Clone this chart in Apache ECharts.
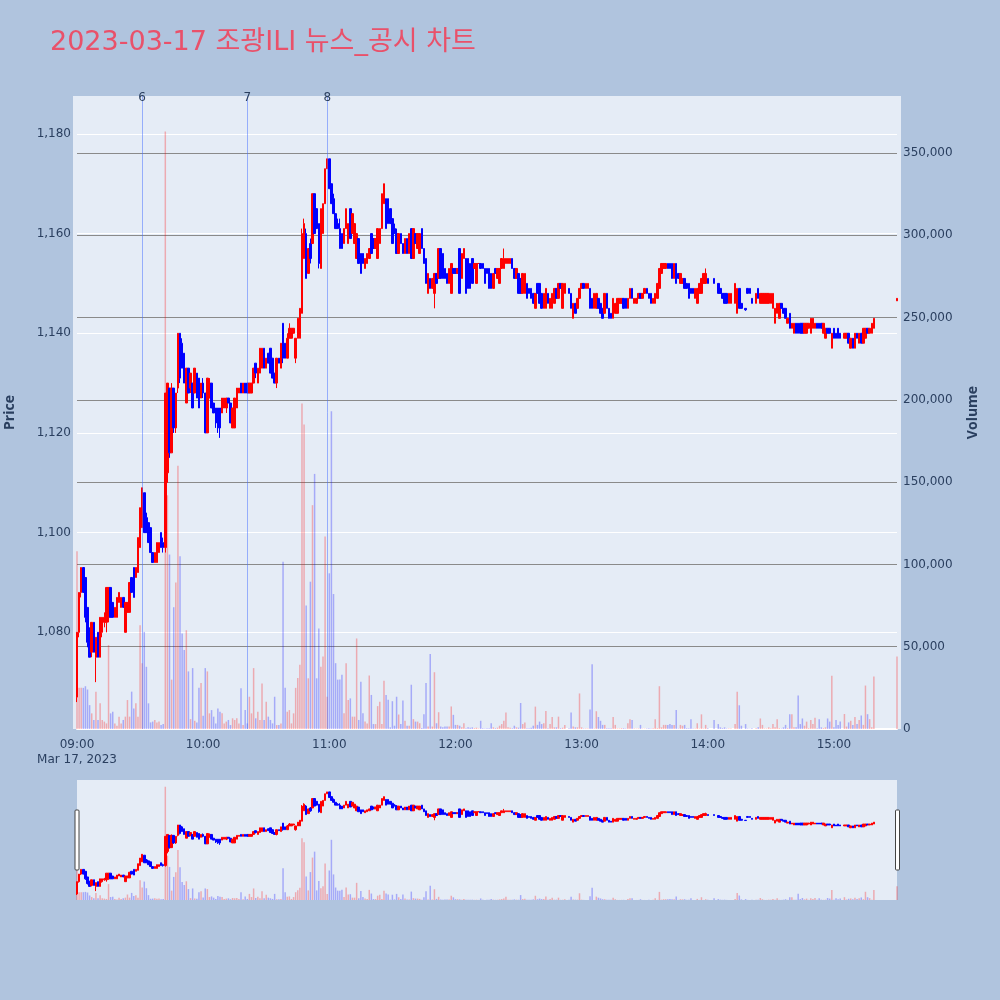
<!DOCTYPE html>
<html><head><meta charset="utf-8">
<script src="https://cdn.jsdelivr.net/npm/echarts@6/dist/echarts.min.js"></script>
<style>html,body{margin:0;padding:0;background:#B0C4DE;}#c{width:1000px;height:1000px;}</style>
</head><body><div id="c"></div>
<script>
// [open, high, low, close] per minute, null = no trade
const h09 = [
[1067,1080,1066,1080],[1080,1088,1079,1088],[1088,1093,1087,1093],[1093,1093,1088,1088],[1091,1091,1082,1083],
[1085,1085,1077,1078],[1080,1081,1075,1075],[1076,1082,1075,1082],[1082,1082,1076,1076],[1075,1079,1070,1079],
[1080,1080,1075,1075],[1075,1083,1075,1083],[1080,1083,1079,1083],[1082,1084,1081,1083],[1082,1089,1080,1089],
[1083,1089,1082,1089],[1089,1089,1083,1083],[1086,1086,1083,1083],[1083,1085,1083,1085],[1083,1087,1083,1087],
[1086,1088,1086,1088],[1085,1087,1085,1087],[1087,1087,1085,1085],[1080,1086,1080,1086],[1084,1086,1084,1086],
[1084,1090,1084,1090],[1091,1091,1088,1088],[1093,1093,1087,1087],[1091,1093,1091,1093],[1092,1099,1092,1099],
[1097,1105,1097,1105],[1101,1109,1101,1109],[1108,1108,1100,1100],[1103,1104,1100,1100],[1102,1102,1098,1098],
[1101,1101,1096,1096],[1096,1096,1094,1094],[1094,1096,1094,1096],[1094,1098,1094,1098],[1096,1098,1096,1098],
[1100,1100,1097,1097],[1098,1099,1096,1097],[1097,1128,1096,1128],[1112,1130,1110,1130],[1129,1129,1115,1116],
[1116,1130,1116,1129],[1129,1129,1120,1121],[1121,1128,1120,1128],[1129,1140,1128,1140],[1140,1140,1130,1131],
[1138,1139,1133,1133],[1136,1136,1130,1130],[1126,1133,1126,1133],[1133,1133,1128,1128],[1129,1132,1128,1132],
[1130,1130,1125,1125],[1128,1133,1128,1133],[1132,1132,1127,1127],[1131,1131,1125,1125],[1127,1130,1127,1130]
];
const h10 = [
[1130,1131,1127,1128],[1128,1128,1120,1120],[1120,1131,1120,1131],[1127,1131,1127,1130],[1130,1130,1125,1125],
[1126,1126,1124,1124],[1125,1125,1121,1122],[1125,1125,1120,1121],[1125,1125,1119,1121],[1124,1127,1124,1127],
[1125,1127,1125,1127],[1125,1127,1124,1127],[1127,1127,1126,1126],[1126,1126,1122,1122],[1121,1125,1121,1125],
[1121,1127,1121,1127],[1125,1129,1125,1129],[1128,1129,1128,1129],[1130,1130,1128,1128],[1128,1130,1128,1130],
[1130,1130,1128,1128],[1130,1130,1128,1128],[1128,1130,1128,1130],[1128,1130,1128,1130],[1130,1133,1130,1133],
[1134,1134,1131,1132],[1130,1133,1130,1133],[1132,1137,1132,1137],[1133,1137,1133,1137],[1137,1137,1133,1133],
[1133,1135,1133,1135],[1136,1136,1134,1134],[1137,1137,1132,1132],[1135,1135,1131,1131],[1132,1132,1130,1130],
[1130,1135,1129,1135],[1135,1135,1134,1134],[1133,1138,1133,1138],[1142,1142,1134,1135],[1138,1138,1135,1135],
[1135,1140,1135,1139],[1139,1142,1139,1141],[1139,1141,1139,1141],[1140,1141,1140,1141],[1135,1139,1134,1139],
[1139,1143,1139,1143],[1139,1145,1139,1145],[1144,1161,1144,1160],[1155,1163,1155,1162],[1160,1161,1151,1151],
[1152,1157,1152,1157],[1158,1159,1154,1155],[1158,1168,1158,1168],[1168,1168,1160,1160],[1165,1165,1161,1161],
[1162,1162,1153,1154],[1153,1165,1153,1165],[1160,1166,1160,1166],[1166,1173,1166,1173],[1173,1175,1173,1175]
];
const h11 = [
[1175,1175,1169,1169],[1170,1170,1166,1166],[1167,1168,1164,1164],[1164,1164,1161,1161],[1162,1163,1161,1161],
[1161,1163,1157,1157],[1160,1160,1157,1157],[1158,1161,1158,1161],[1161,1165,1161,1165],[1158,1162,1158,1162],
[1165,1165,1159,1159],[1160,1164,1160,1164],[1158,1162,1158,1162],[1155,1160,1155,1160],[1159,1159,1154,1154],
[1156,1156,1152,1152],[1156,1156,1154,1154],[1153,1155,1153,1155],[1154,1156,1154,1156],[1155,1157,1155,1157],
[1160,1160,1156,1156],[1159,1159,1157,1157],[1157,1159,1157,1159],[1155,1161,1155,1161],[1158,1161,1158,1161],
[1161,1168,1161,1168],[1166,1170,1166,1170],[1167,1167,1161,1161],[1167,1167,1162,1162],[1165,1165,1162,1162],
[1163,1163,1158,1158],[1161,1162,1160,1160],[1160,1161,1156,1156],[1156,1160,1156,1160],[1160,1160,1158,1158],
[1158,1158,1156,1156],[1156,1159,1156,1159],[1159,1159,1156,1156],[1156,1160,1156,1160],[1161,1161,1155,1155],
[1155,1161,1155,1161],[1160,1160,1158,1158],[1157,1160,1157,1160],[1156,1160,1156,1160],[1161,1161,1157,1157],
[1157,1157,1154,1154],[1155,1155,1150,1150],[1148,1152,1148,1152],[1151,1151,1149,1149],[1149,1151,1149,1151],
[1148,1152,1145,1152],[1152,1152,1150,1150],[1151,1157,1151,1157],[1157,1157,1151,1151],[1156,1156,1151,1151],
[1153,1153,1151,1151],[1152,1152,1150,1150],[1150,1153,1150,1153],[1148,1154,1148,1154],[1153,1153,1152,1152]
];
const h12 = [
[1153,1153,1152,1152],[1152,1153,1152,1153],[1157,1157,1148,1148],[1151,1156,1151,1156],[1155,1157,1155,1157],
[1155,1155,1148,1148],[1155,1155,1149,1149],[1154,1154,1149,1149],[1155,1155,1150,1150],[1153,1154,1153,1154],
[1150,1154,1150,1154],[1154,1154,1154,1154],[1154,1154,1153,1153],[1154,1154,1153,1153],[1153,1153,1150,1150],
[1153,1153,1152,1152],[1153,1153,1149,1149],[1152,1152,1149,1149],[1149,1152,1149,1152],[1153,1153,1152,1152],
[1151,1153,1151,1153],[1150,1153,1150,1153],[1153,1155,1153,1155],[1153,1157,1153,1155],[1154,1155,1154,1155],
[1154,1155,1154,1155],[1154,1155,1154,1155],[1155,1155,1153,1153],[1153,1153,1151,1151],[1151,1153,1151,1153],
[1152,1152,1148,1148],[1151,1151,1148,1148],[1148,1152,1148,1152],[1148,1152,1148,1152],[1150,1150,1147,1147],
[1149,1149,1148,1148],[1149,1149,1147,1147],[1148,1148,1146,1146],[1145,1148,1145,1148],[1150,1150,1148,1148],
[1150,1150,1146,1146],[1148,1148,1145,1145],[1145,1148,1145,1148],[1145,1149,1145,1149],[1148,1148,1146,1146],
[1145,1147,1145,1147],[1145,1148,1145,1148],[1146,1149,1146,1149],[1149,1149,1147,1147],[1147,1150,1147,1150],
[1150,1150,1149,1149],[1145,1150,1145,1150],[1148,1150,1148,1150],null,[1149,1149,1148,1148],
[1148,1148,1145,1145],[1143,1146,1143,1146],[1146,1146,1144,1144],[1145,1147,1145,1147],[1147,1149,1147,1149]
];
const h13 = [
[1149,1150,1149,1150],[1150,1150,1149,1149],[1149,1150,1149,1150],[1149,1150,1149,1150],[1149,1149,1145,1145],
[1147,1147,1145,1145],[1145,1148,1145,1148],[1145,1148,1145,1148],[1147,1147,1145,1145],[1146,1146,1144,1144],
[1145,1145,1143,1143],[1144,1148,1144,1148],[1148,1148,1145,1145],[1145,1145,1143,1143],[1144,1144,1143,1143],
[1143,1147,1143,1147],[1144,1146,1144,1146],[1144,1147,1144,1147],[1146,1147,1146,1147],[1146,1147,1146,1147],
[1147,1147,1145,1145],[1147,1147,1145,1145],[1145,1147,1145,1147],[1147,1149,1147,1149],[1149,1149,1147,1147],
[1146,1147,1146,1147],[1146,1147,1146,1147],[1147,1148,1147,1148],[1148,1148,1147,1147],[1147,1148,1147,1148],
[1148,1149,1148,1149],[1149,1149,1148,1148],[1148,1148,1147,1147],[1148,1148,1146,1146],[1146,1147,1146,1147],
[1146,1148,1146,1148],[1147,1150,1147,1150],[1149,1153,1149,1153],[1152,1154,1152,1154],[1153,1154,1153,1154],
[1153,1154,1153,1154],[1154,1154,1153,1153],[1154,1154,1153,1153],[1154,1154,1151,1151],[1151,1154,1151,1154],
[1154,1154,1150,1150],[1152,1152,1151,1151],[1150,1152,1150,1152],[1150,1151,1150,1151],[1151,1151,1149,1149],
[1150,1150,1149,1149],[1150,1150,1147,1147],[1149,1149,1148,1148],[1149,1149,1148,1148],[1147,1149,1147,1149],
[1146,1149,1146,1149],[1148,1150,1148,1150],[1148,1151,1148,1151],[1150,1152,1150,1152],[1150,1153,1150,1152]
];
const h14 = [
[1151,1151,1150,1150],null,null,[1151,1151,1150,1150],null,
[1150,1150,1148,1148],[1149,1149,1148,1148],[1148,1148,1147,1147],[1148,1148,1146,1146],[1148,1148,1146,1146],
[1146,1148,1146,1148],[1146,1148,1146,1148],null,[1146,1150,1146,1150],[1144,1149,1144,1149],
[1149,1149,1145,1145],[1146,1146,1145,1145],null,[1145,1145,1144.5,1144.7],[1149,1149,1148,1148],
[1149,1149,1148,1148],[1147,1147,1146,1146],null,[1146,1148,1146,1148],[1149,1149,1147,1147],
[1146,1148,1146,1148],[1146,1148,1146,1148],[1146,1148,1146,1148],[1146,1148,1146,1148],[1146,1148,1146,1148],
[1146,1148,1146,1148],[1145,1148,1145,1148],[1142,1145,1142,1145],[1144,1146,1144,1146],[1143,1146,1143,1146],
[1146,1146,1145,1145],[1145,1145,1144,1144],[1145,1145,1143,1143],[1142,1143,1142,1143],[1144,1144,1141,1141],
[1141,1142,1141,1142],[1140,1142,1140,1142],[1142,1142,1140,1140],[1142,1142,1140,1140],[1142,1142,1140,1140],
[1142,1142,1140,1140],[1140,1142,1140,1142],[1140,1142,1140,1142],[1141,1142,1141,1142],[1140,1143,1140,1143],
[1141,1143,1141,1143],[1141,1142,1141,1142],[1142,1142,1141,1141],[1142,1142,1141,1141],[1142,1142,1141,1141],
[1140,1142,1140,1142],[1139,1141,1139,1141],[1141,1141,1140,1140],[1141,1141,1140,1140],[1137,1140,1137,1140]
];
const h15 = [
[1141,1141,1139,1139],[1140,1140,1139,1139],[1141,1141,1139,1139],[1140,1140,1139,1139],null,
[1139,1140,1139,1140],[1139,1140,1139,1140],[1140,1140,1138,1138],[1137,1139,1137,1139],[1139,1139,1137,1137],
[1137,1140,1137,1140],[1140,1140,1139,1139],[1138,1140,1138,1140],[1140,1140,1138,1138],[1138,1141,1138,1141],
[1139,1141,1139,1141],[1141,1141,1140,1140],[1140,1141,1140,1141],[1140,1142,1140,1142],[1141,1143,1141,1143],
null,null,null,null,null,null,null,null,null,null,
[1146.5,1147,1146.5,1147]
];
// volume per minute
const v09 = [108000,25000,25000,25000,26000,24000,14500,9500,5500,22700,
 5500,15600,5500,4500,3400,51000,9500,10500,3400,2000,
 7500,3400,5500,7500,17600,7500,22700,12500,15600,7500,
 63000,40000,59000,37800,15600,4000,4500,5500,4000,4500,
 2500,3000,363000,142000,106000,30000,74000,89000,160000,105000,
 58000,48000,60000,35000,6000,37000,5000,4000,25000,28000];
const v10 = [8000,37000,35000,9500,11500,7500,3400,12500,10500,9500,
 3400,4500,5500,2400,6500,5500,6500,3400,24700,2400,
 11500,3400,19600,9500,37000,6500,10500,5500,27700,5500,
 16600,7500,5500,3400,19600,2400,2400,3400,101600,25000,
 10500,11500,3400,9500,25000,31000,39000,197800,185000,75000,
 30800,89500,136000,155000,30800,61000,37800,44000,117000,19600];
const v11 = [94600,193000,82000,40000,30000,30000,33000,9500,40000,17600,
 18600,7500,7500,55000,5500,28700,9500,4500,3400,32500,
 20700,3000,3000,13900,16500,3000,29300,20700,17800,1000,
 16900,2000,19600,8800,3000,17300,5000,2000,2000,26900,
 6000,4500,4500,3500,600,8900,28000,1500,45600,1500,
 34500,3500,10200,1500,1000,1500,1500,1500,13700,8600];
const v12 = [2500,2500,2000,1000,3500,500,1000,800,1000,500,
 800,300,5000,500,300,500,500,3500,1000,500,
 800,2000,3000,5000,10100,1000,800,500,2000,1000,
 800,15800,3000,4000,500,500,800,2000,13600,2500,
 4500,3000,3500,11000,500,3000,7300,1000,1000,7500,
 500,800,2500,null,500,10100,1500,1000,1000,21600];
const v13 = [1000,300,300,300,11800,39400,300,10800,7300,5000,
 2500,2500,500,500,500,7300,2500,300,300,500,
 500,300,3500,5900,5500,300,200,300,2500,200,
 200,300,500,300,500,5900,500,26000,1000,2500,
 2500,2500,3000,2500,2500,11600,300,2500,2000,2500,
 500,500,5900,300,300,3500,300,8900,300,2500];
const v14 = [500,null,null,5500,null,3000,1000,500,1000,300,
 300,300,null,3000,22600,14400,2000,null,3000,300,
 100,500,null,500,1000,6400,2500,300,300,1000,
 500,3000,1000,5900,500,300,1000,2500,500,9000,
 9000,1000,1000,20400,3000,6400,2000,4500,500,5500,
 3000,6800,500,5900,1000,500,1000,6400,4500,32300];
const v15 = [1000,5500,2500,4500,null,9100,1500,4000,5000,2500,
 7300,3000,5500,8200,2500,26400,9000,6000,1000,31900,
 null,null,null,null,null,null,null,null,null,null,
 44000];

const hourLabels = ['09:00','10:00','11:00','12:00','13:00','14:00','15:00'];
const dateLabel = 'Mar 17, 2023';
const newsTimes = ['09:31','10:21','10:59'];
const newsLabels = ['6','7','8'];
const priceRange = [1060.6, 1187.6];
const volumeRange = [0, 384600];
const titleText = '2023-03-17 조광ILI 뉴스_공시 차트';

const ohlc = [].concat(h09,h10,h11,h12,h13,h14,h15);
const vols = [].concat(v09,v10,v11,v12,v13,v14,v15);
const cats = ohlc.map((_, i) => {
  const t = 540 + i;
  return String(Math.floor(t / 60)).padStart(2, '0') + ':' + String(t % 60).padStart(2, '0');
});
const candleData = ohlc.map(d => d ? [d[0], d[3], d[2], d[1]] : ['-','-','-','-']);
const isUp = i => { const d = ohlc[i]; return d ? d[3] >= d[0] : false; };
const volData = vols.map((v, i) => v == null ? '-' : {
  value: v, itemStyle: { color: isUp(i) ? 'rgba(255,0,0,0.28)' : 'rgba(0,0,255,0.28)' }
});

const FONT = '"DejaVu Sans", Verdana, sans-serif';
const TXT = '#2a3f5f';
const fmt = v => Math.round(v).toLocaleString('en-US');
const candleStyle = { color: '#ff0000', color0: '#0000ff', borderColor: '#ff0000', borderColor0: '#0000ff', borderWidth: 1 };

const chart = echarts.init(document.getElementById('c'), null, { renderer: 'canvas' });
chart.setOption({
  backgroundColor: '#B0C4DE',
  animation: false,
  title: {
    text: titleText, left: 50, top: 29, padding: 0,
    textStyle: { color: '#E9516A', fontSize: 27, fontWeight: 'normal', fontFamily: '"DejaVu Sans", "Noto Sans CJK KR", sans-serif' }
  },
  graphic: { elements: [
    { type: 'rect', z: -10, silent: true, shape: { x: 73, y: 96, width: 828, height: 633 }, style: { fill: '#E5ECF6' } },
    { type: 'rect', z: -10, silent: true, shape: { x: 77, y: 780, width: 820, height: 120 }, style: { fill: '#E5ECF6' } },
    { type: 'rect', z: 100, silent: true, shape: { x: 75, y: 810, width: 4, height: 60, r: 1 }, style: { fill: '#ffffff', stroke: '#444', lineWidth: 1 } },
    { type: 'rect', z: 100, silent: true, shape: { x: 895.5, y: 810, width: 4, height: 60, r: 1 }, style: { fill: '#ffffff', stroke: '#444', lineWidth: 1 } }
  ]},
  grid: [
    { left: 77, right: 103, top: 96, height: 633, outerBoundsMode: 'none', containLabel: false },
    { left: 77, right: 103, top: 780, height: 120, outerBoundsMode: 'none', containLabel: false }
  ],
  xAxis: [
    { type: 'category', gridIndex: 0, data: cats, boundaryGap: false,
      axisLine: { show: true, lineStyle: { color: '#ffffff', width: 2 } },
      axisTick: { show: false }, splitLine: { show: false },
      axisLabel: { interval: (i, v) => hourLabels.indexOf(v) >= 0,
        formatter: v => v === cats[0] ? v + '\n' + dateLabel : v,
        color: TXT, fontFamily: FONT, fontSize: 12, lineHeight: 15, margin: 8 } },
    { type: 'category', gridIndex: 1, data: cats, boundaryGap: false,
      axisLine: { show: false }, axisTick: { show: false }, axisLabel: { show: false }, splitLine: { show: false } }
  ],
  yAxis: [
    { type: 'value', gridIndex: 0, position: 'left', min: priceRange[0], max: priceRange[1], minInterval: 20, maxInterval: 20,
      name: 'Price', nameLocation: 'middle', nameGap: 60, nameRotate: 90,
      nameTextStyle: { color: TXT, fontSize: 14, fontWeight: 'bold', fontFamily: '"Open Sans", sans-serif' },
      axisLine: { show: false }, axisTick: { show: false },
      axisLabel: { color: TXT, fontFamily: FONT, fontSize: 12, margin: 6,
        formatter: v => (Math.abs(v % 20) < 1e-6 ? fmt(v) : '') },
      splitLine: { show: true, showMinLine: false, showMaxLine: false, lineStyle: { color: '#ffffff', width: 1 } } },
    { type: 'value', gridIndex: 0, position: 'right', min: volumeRange[0], max: volumeRange[1], interval: 50000,
      name: 'Volume', nameLocation: 'middle', nameGap: 69, nameRotate: 90,
      nameTextStyle: { color: TXT, fontSize: 14, fontWeight: 'bold', fontFamily: '"Open Sans", sans-serif' },
      axisLine: { show: false }, axisTick: { show: false },
      axisLabel: { color: TXT, fontFamily: FONT, fontSize: 12, margin: 6,
        formatter: v => (Math.abs(v % 50000) < 1e-6 ? fmt(v) : '') },
      splitLine: { show: true, showMinLine: false, showMaxLine: false, lineStyle: { color: '#8a8a8a', width: 1 } } },
    { type: 'value', gridIndex: 1, min: priceRange[0], max: priceRange[1], show: false },
    { type: 'value', gridIndex: 1, min: volumeRange[0], max: volumeRange[1], show: false }
  ],
  series: [
    { type: 'bar', xAxisIndex: 0, yAxisIndex: 1, data: volData, barWidth: 1.5, silent: true },
    { type: 'candlestick', xAxisIndex: 0, yAxisIndex: 0, data: candleData, barWidth: 2, clip: false,
      itemStyle: candleStyle,
      markLine: { symbol: ['none', 'none'], silent: true, animation: false,
        lineStyle: { color: 'rgba(70,110,255,0.5)', width: 1, type: 'solid' },
        label: { show: true, position: 'end', formatter: p => p.name, color: TXT, fontFamily: FONT, fontSize: 12, distance: -8 },
        data: newsTimes.map((t, i) => ({ name: newsLabels[i], xAxis: t })) } },
    { type: 'bar', xAxisIndex: 1, yAxisIndex: 3, data: volData, barWidth: 1.5, silent: true },
    { type: 'candlestick', xAxisIndex: 1, yAxisIndex: 2, data: candleData, barWidth: 2, clip: false, itemStyle: candleStyle }
  ]
});
</script>
</body></html>
